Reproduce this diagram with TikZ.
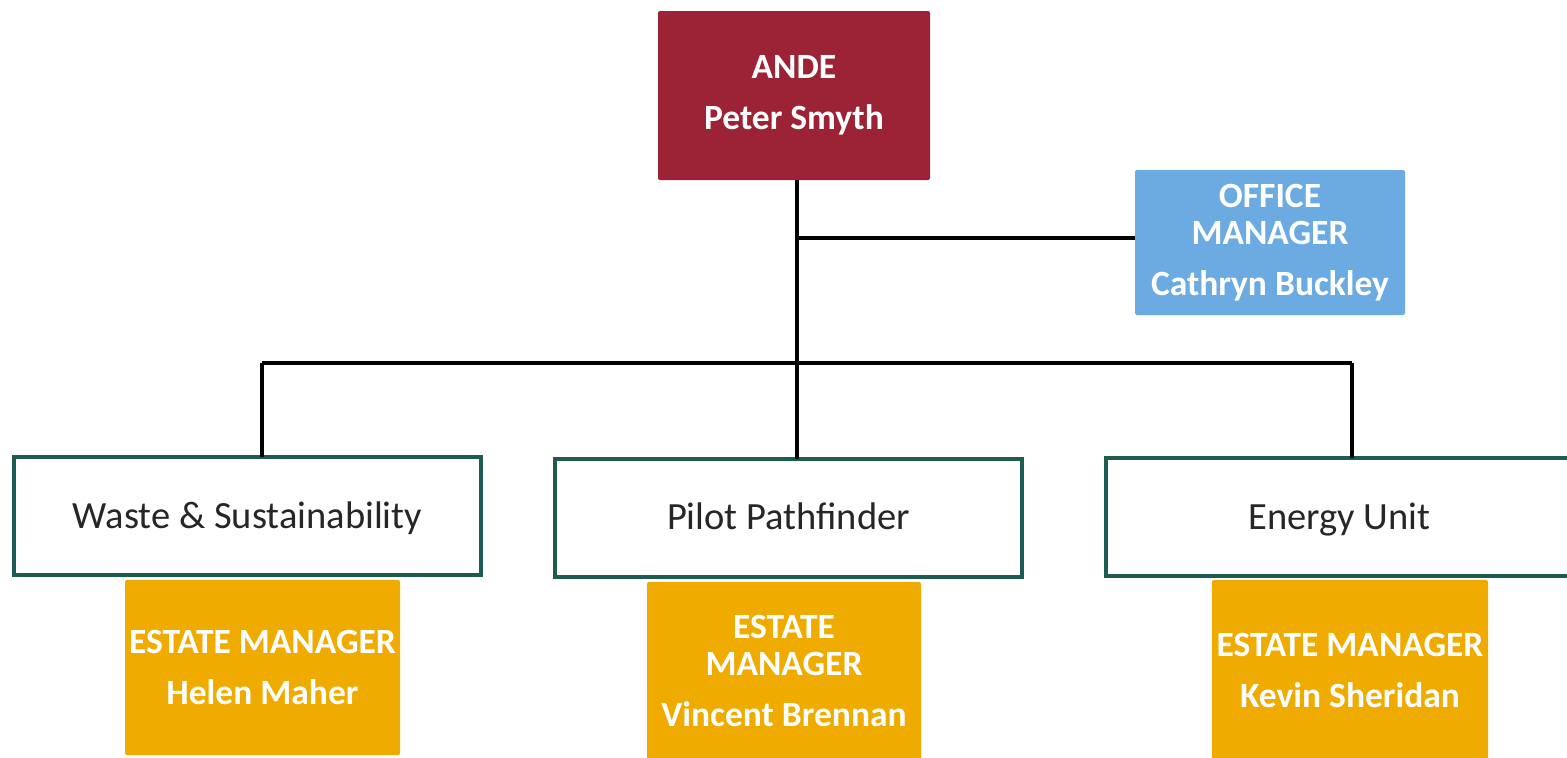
\documentclass[tikz,border=0pt]{standalone}
\usepackage{fontspec}
\setmainfont{Carlito}
\definecolor{andered}{HTML}{9B2335}
\definecolor{officeblue}{HTML}{6CABE2}
\definecolor{estateorange}{HTML}{F0AB00}
\definecolor{unitgreen}{HTML}{1B5E51}
\begin{document}
\begin{tikzpicture}[x=1pt,y=-1pt,
  headbox/.style={rectangle, inner sep=0pt, outer sep=0pt, align=center, text=white,
    font=\fontsize{35.5}{37}\selectfont\bfseries, rounded corners=2pt},
  unitbox/.style={rectangle, draw=unitgreen, line width=4pt, fill=white, inner sep=0pt, outer sep=0pt,
    minimum width=467pt, minimum height=118pt, text=black!85, font=\fontsize{38.5}{44}\selectfont,
    text height=24.8pt, text depth=0pt},
  link/.style={draw=black, line width=3.5pt}]
\useasboundingbox[fill=white] (0,0) rectangle (1567,758);
\node[headbox, fill=andered, minimum width=272pt, minimum height=169pt] (ande) at (794,95.5) {ANDE\\[14pt]Peter Smyth};
\node[headbox, fill=officeblue, minimum width=270pt, minimum height=145pt] (office) at (1270,242.5) {OFFICE\\MANAGER\\[14pt]Cathryn Buckley};
\node[unitbox] (waste) at (247.5,516) {Waste \& Sustainability};
\node[unitbox] (pilot) at (788.5,517.5) {Pilot Pathfinder};
\node[unitbox] (energy) at (1339.5,517) {Energy Unit};
\node[headbox, fill=estateorange, minimum width=275pt, minimum height=175pt] (helen) at (262.5,667.5) {ESTATE MANAGER\\[14pt]Helen Maher};
\node[headbox, fill=estateorange, minimum width=274pt, minimum height=178pt] (vincent) at (784,671) {ESTATE\\MANAGER\\[14pt]Vincent Brennan};
\node[headbox, fill=estateorange, minimum width=276pt, minimum height=180pt] (kevin) at (1350,670) {ESTATE MANAGER\\[14pt]Kevin Sheridan};
\coordinate (bar) at (797,363);
\coordinate (jo) at (797,238);
\coordinate (jl) at (262,363);
\coordinate (jr) at (1352,363);
\draw[link] (ande.south -| bar) -- (pilot.north -| bar);
\draw[link] (jo) -- (jo -| office.west);
\draw[link] (jl) -- (jr);
\draw[link] (jl) -- (jl |- waste.north);
\draw[link] (jr) -- (jr |- energy.north);
\end{tikzpicture}
\end{document}
